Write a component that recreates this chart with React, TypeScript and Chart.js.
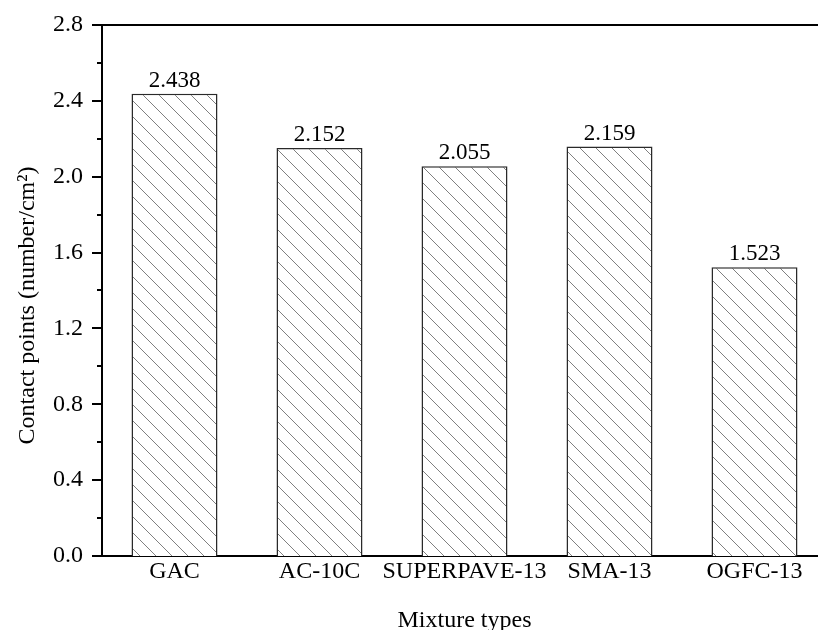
import React, { useEffect, useRef } from "react";
import { Chart, registerables } from "chart.js";

Chart.register(...registerables);

const categories = ["GAC", "AC-10C", "SUPERPAVE-13", "SMA-13", "OGFC-13"];
const contactPoints = [2.438, 2.152, 2.055, 2.159, 1.523];
const valueLabels = ["2.438", "2.152", "2.055", "2.159", "1.523"];
const yTitle = "Contact points (number/cm\u00B2)";
const xTitle = "Mixture types";

const FONT = "'Liberation Serif', 'Times New Roman', serif";

function makeHatch(): CanvasPattern | string {
  const s = 16;
  const c = document.createElement("canvas");
  c.width = s;
  c.height = s;
  const g = c.getContext("2d");
  if (!g) return "#fff";
  g.fillStyle = "#ffffff";
  g.fillRect(0, 0, s, s);
  g.strokeStyle = "#808080";
  g.lineWidth = 1;
  g.beginPath();
  g.moveTo(-2, -2);
  g.lineTo(s + 2, s + 2);
  g.moveTo(-2, s - 2);
  g.lineTo(2, s + 2);
  g.moveTo(s - 2, -2);
  g.lineTo(s + 2, 2);
  g.stroke();
  const p = g.createPattern(c, "repeat");
  return p || "#fff";
}

const framePlugin = {
  id: "frame",
  afterDraw(chart: any) {
    const { ctx, chartArea } = chart;
    const y = chart.scales.y;
    ctx.save();
    ctx.strokeStyle = "#000";
    ctx.lineWidth = 2;
    ctx.beginPath();
    ctx.moveTo(chartArea.left - 10, chartArea.top);
    ctx.lineTo(chartArea.right + 1, chartArea.top);
    ctx.moveTo(chartArea.right, chartArea.top);
    ctx.lineTo(chartArea.right, chartArea.bottom);
    ctx.stroke();
    for (let i = 0; i <= 14; i++) {
      const v = i * 0.2;
      const py = Math.round(y.getPixelForValue(v));
      const major = i % 2 === 0;
      const len = major ? 10 : 5;
      ctx.beginPath();
      ctx.moveTo(chartArea.left - len, py);
      ctx.lineTo(chartArea.left, py);
      ctx.stroke();
      if (major) {
        ctx.beginPath();
        ctx.moveTo(chartArea.right - 5, py);
        ctx.lineTo(chartArea.right, py);
        ctx.stroke();
      }
    }
    // y-axis title (rotated), offset like the original
    ctx.fillStyle = "#000";
    ctx.font = `24px ${FONT}`;
    ctx.textAlign = "center";
    ctx.textBaseline = "middle";
    ctx.translate(28, (chartArea.top + chartArea.bottom) / 2 + 15);
    ctx.rotate(-Math.PI / 2);
    ctx.fillText(yTitle, 0, 0);
    ctx.restore();
  },
};

const labelPlugin = {
  id: "valueLabels",
  afterDatasetsDraw(chart: any) {
    const { ctx } = chart;
    const meta = chart.getDatasetMeta(0);
    ctx.save();
    ctx.fillStyle = "#000";
    ctx.font = `23px ${FONT}`;
    ctx.textAlign = "center";
    ctx.textBaseline = "alphabetic";
    meta.data.forEach((bar: any, i: number) => {
      ctx.fillText(valueLabels[i], bar.x, bar.y - 7);
    });
    ctx.restore();
  },
};

export default function App() {
  const ref = useRef<HTMLCanvasElement>(null);
  useEffect(() => {
    if (!ref.current) return;
    const chart = new Chart(ref.current, {
      type: "bar",
      data: {
        labels: categories,
        datasets: [
          {
            data: contactPoints,
            backgroundColor: makeHatch() as any,
            borderColor: "#2a2a2a",
            borderWidth: 1.5,
            categoryPercentage: 1,
            barPercentage: 0.593,
          },
        ],
      },
      options: {
        responsive: false,
        animation: false,
        devicePixelRatio: 1,
        layout: { padding: { left: 0, top: 25, right: 3, bottom: 0 } },
        plugins: {
          legend: { display: false },
          tooltip: { enabled: false },
        },
        scales: {
          x: {
            grid: { display: false, drawTicks: false },
            border: { display: true, color: "#000", width: 2 },
            ticks: {
              color: "#000",
              font: { family: FONT, size: 24 },
              padding: 1,
              maxRotation: 0,
              autoSkip: false,
            },
            title: {
              display: true,
              text: xTitle,
              color: "#000",
              font: { family: FONT, size: 24, lineHeight: 0.75 },
              padding: { top: 0, bottom: 0 },
            },
            afterFit(scale: any) {
              scale.height = 74;
              scale.paddingLeft = 0;
              scale.paddingRight = 0;
            },
          },
          y: {
            min: 0,
            max: 2.8,
            grid: { display: false, drawTicks: false },
            border: { display: true, color: "#000", width: 2 },
            ticks: {
              stepSize: 0.4,
              color: "#000",
              font: { family: FONT, size: 24 },
              padding: 19,
              callback: (v: any) => Number(v).toFixed(1),
            },
            title: { display: false },
            afterFit(scale: any) {
              scale.width = 102;
              scale.paddingTop = 0;
              scale.paddingBottom = 0;
            },
          },
        },
      },
      plugins: [labelPlugin, framePlugin],
    });
    return () => chart.destroy();
  }, []);
  return (
    <div
      style={{
        position: "fixed",
        left: 0,
        top: 0,
        width: 818,
        height: 630,
        overflow: "hidden",
        background: "#fff",
      }}
    >
      <canvas ref={ref} width={830} height={630} style={{ display: "block" }} />
    </div>
  );
}
